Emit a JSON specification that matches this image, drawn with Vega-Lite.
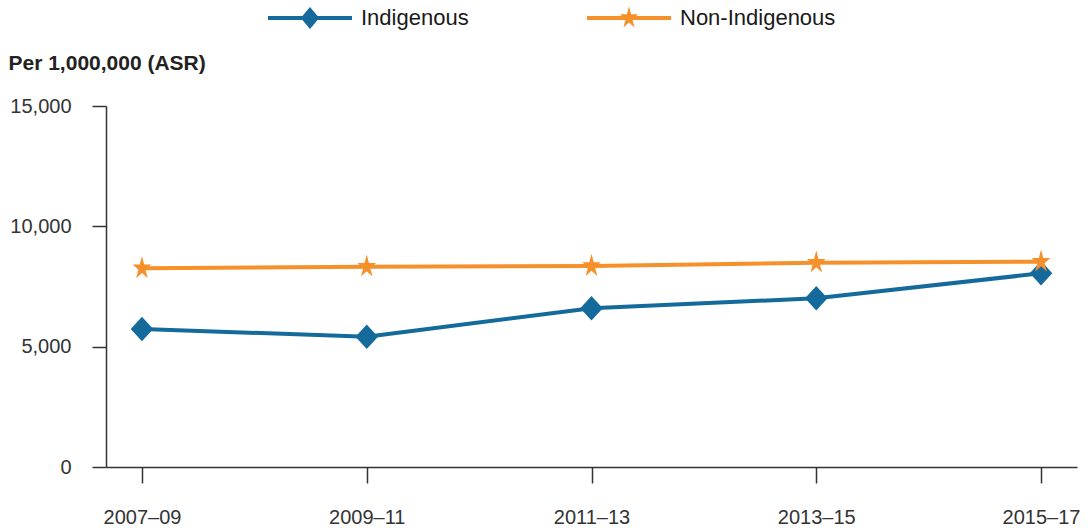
{
  "$schema": "https://vega.github.io/schema/vega-lite/v6.json",
  "width": 971,
  "height": 361,
  "autosize": "none",
  "padding": {"left": 106, "top": 106, "right": 14, "bottom": 61},
  "background": "white",
  "config": {
    "view": {"stroke": null},
    "font": "Liberation Sans",
    "axis": {"grid": false, "domainColor": "#333333", "tickColor": "#333333", "labelColor": "#333333", "labelFont": "Liberation Sans", "labelFontSize": 20, "domainWidth": 1.5, "tickWidth": 1.5}
  },
  "data": {
    "values": [
      {"period": "2007–09", "group": "Indigenous", "value": 5734},
      {"period": "2009–11", "group": "Indigenous", "value": 5414},
      {"period": "2011–13", "group": "Indigenous", "value": 6594},
      {"period": "2013–15", "group": "Indigenous", "value": 7010},
      {"period": "2015–17", "group": "Indigenous", "value": 8048},
      {"period": "2007–09", "group": "Non-Indigenous", "value": 8256},
      {"period": "2009–11", "group": "Non-Indigenous", "value": 8323},
      {"period": "2011–13", "group": "Non-Indigenous", "value": 8352},
      {"period": "2013–15", "group": "Non-Indigenous", "value": 8490},
      {"period": "2015–17", "group": "Non-Indigenous", "value": 8531}
    ]
  },
  "layer": [
    {
      "mark": {"type": "line", "strokeWidth": 4},
      "encoding": {
        "x": {
          "field": "period", "type": "ordinal",
          "scale": {"type": "point", "padding": 0.16},
          "axis": {"orient": "bottom", "title": null, "labelAngle": 0, "tickSize": 16, "labelPadding": 24}
        },
        "y": {
          "field": "value", "type": "quantitative",
          "scale": {"domain": [0, 15000], "nice": false},
          "axis": {
            "orient": "left",
            "values": [0, 5000, 10000, 15000], "format": ",d",
            "tickSize": 14, "labelPadding": 21,
            "title": "Per 1,000,000 (ASR)", "titleAngle": 0, "titleAlign": "left", "titleBaseline": "middle",
            "titleX": -98, "titleY": -43, "titleFontSize": 21, "titleFontWeight": "bold", "titleColor": "#222222", "titleFont": "Liberation Sans"
          }
        },
        "color": {
          "field": "group", "type": "nominal",
          "scale": {"domain": ["Indigenous", "Non-Indigenous"], "range": ["#136a9b", "#f6902b"]},
          "legend": {
            "title": null, "orient": "none", "direction": "horizontal",
            "legendX": 162, "legendY": -130,
            "symbolSize": 7056, "symbolType": "circle",
            "labelFontSize": 22, "labelColor": "#1a1a1a", "labelFont": "Liberation Sans",
            "labelOffset": 9, "columnPadding": 118,
            "encode": {
              "symbols": {
                "update": {
                  "shape": {"signal": "datum.value === 'Indigenous' ? 'M-1,-0.045H1V0.045H-1Z M0,-0.26L0.22,0L0,0.26L-0.22,0Z' : 'M-1,-0.045H1V0.045H-1Z M0,-0.28L0.05,-0.087L0.213,-0.087L0.082,0.033L0.132,0.227L0,0.107L-0.132,0.227L-0.082,0.033L-0.213,-0.087L-0.05,-0.087Z'"},
                  "fill": {"signal": "datum.value === 'Indigenous' ? '#22809c' : '#f6902b'"},
                  "fillOpacity": {"value": 1},
                  "strokeWidth": {"value": 0}
                }
              }
            }
          }
        }
      }
    },
    {
      "mark": {"type": "point", "filled": true, "opacity": 1, "size": 600},
      "encoding": {
        "x": {"field": "period", "type": "ordinal", "scale": {"type": "point", "padding": 0.16}},
        "y": {"field": "value", "type": "quantitative"},
        "shape": {
          "condition": {"test": "datum.group === 'Indigenous'", "value": "M0,-1L0.92,0L0,1L-0.92,0Z"},
          "value": "M0,-1L0.18,-0.309L0.761,-0.309L0.29,0.118L0.47,0.809L0,0.382L-0.47,0.809L-0.29,0.118L-0.761,-0.309L-0.18,-0.309Z"
        },
        "color": {
          "field": "group", "type": "nominal",
          "scale": {"domain": ["Indigenous", "Non-Indigenous"], "range": ["#136a9b", "#f6902b"]},
          "legend": null
        }
      }
    }
  ]
}
